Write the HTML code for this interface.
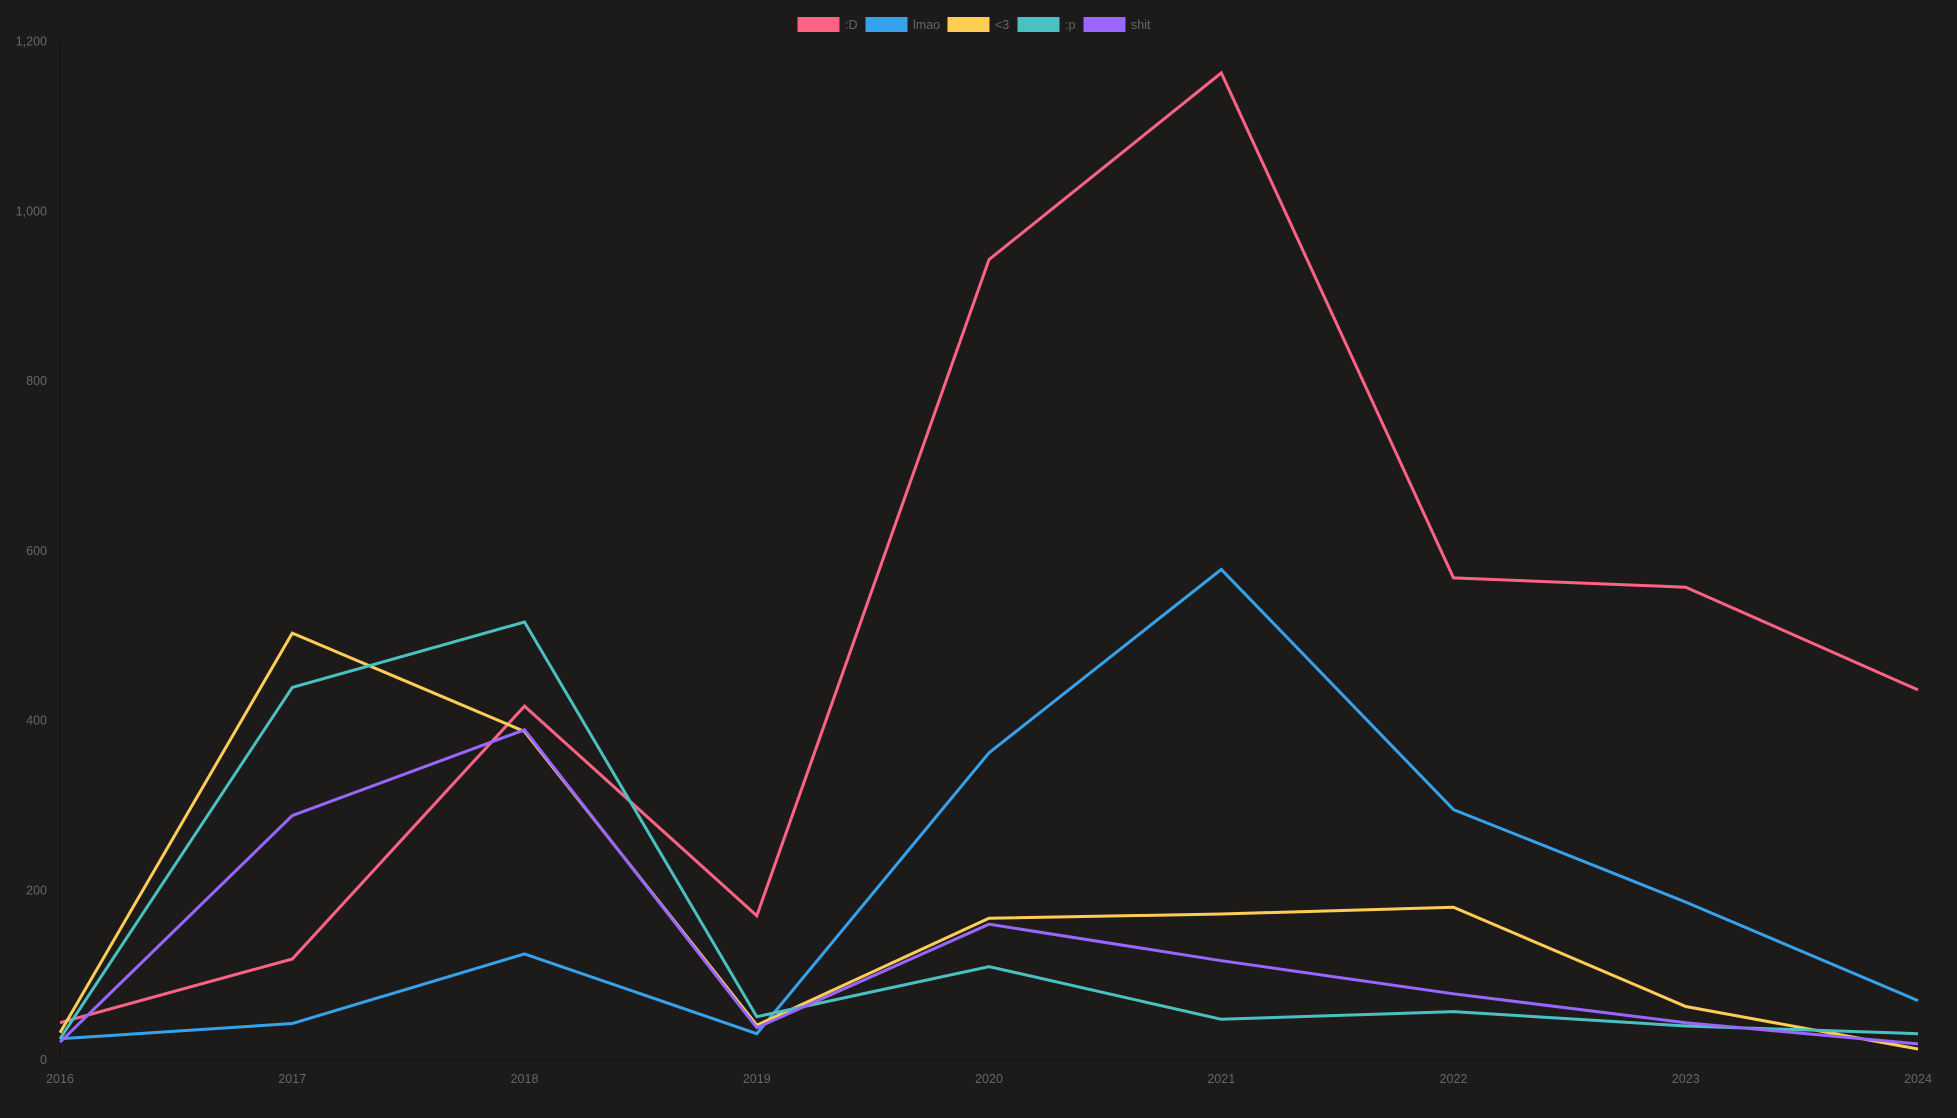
<!DOCTYPE html>
<html><head><meta charset="utf-8"><style>
html,body{margin:0;padding:0;background:#1c1b1a;}
svg{display:block;font-family:"Liberation Sans",sans-serif;}
</style></head><body>
<svg id="chart" width="1957" height="1118" viewBox="0 0 1957 1118" xmlns="http://www.w3.org/2000/svg">
<rect width="1957" height="1118" fill="#1c1b1a"/>
<g id="legend"></g>
<g id="axes"></g>
<g id="series"></g>
</svg>
<script>
const years = ["2016","2017","2018","2019","2020","2021","2022","2023","2024"];
const yTicks = [0,200,400,600,800,1000,1200];
const seriesNames = [":D","lmao","<3",":p","shit"];
const seriesColors = ["#ff6384","#36a2eb","#ffcd56","#4bc0c0","#9966ff"];
const dataD = [44,119,417,170,943,1163,568,557,436];
const dataLmao = [25,43,125,31,362,578,295,186,70];
const dataHeart = [32,503,387,41,167,172,180,63,13];
const dataP = [25,439,516,51,110,48,57,40,31];
const dataShit = [21,288,389,38,160,117,78,44,19];
const allData = [dataD,dataLmao,dataHeart,dataP,dataShit];

const NS="http://www.w3.org/2000/svg";
const X0=60,X1=1918,Y0=1060,Y1=41.5,YMAX=1200;
function xs(i){return X0+(X1-X0)*i/(years.length-1);}
function ys(v){return Y0-(Y0-Y1)*v/YMAX;}
function mk(tag,attrs,parent){const e=document.createElementNS(NS,tag);for(const k in attrs)e.setAttribute(k,attrs[k]);parent.appendChild(e);return e;}

const axes=document.getElementById('axes');
const ya=mk('line',{x1:X0,y1:Y1,x2:X0,y2:Y0,stroke:'#141312','stroke-width':1},axes);


const xa=mk('line',{x1:X0,y1:Y0,x2:X1,y2:Y0,stroke:'#141312','stroke-width':1},axes);


yTicks.forEach(v=>{
  const t=mk('text',{x:X0-13,y:ys(v)+4,'text-anchor':'end','font-size':12.5,fill:'#666'},axes);
  t.textContent=v.toLocaleString('en-US');
  
  
});
years.forEach((y,i)=>{
  const t=mk('text',{x:xs(i),y:1083,'text-anchor':'middle','font-size':12.5,fill:'#666'},axes);
  t.textContent=y;
  
  
});

const sg=document.getElementById('series');
allData.forEach((d,s)=>{
  const pts=d.map((v,i)=>xs(i).toFixed(1)+','+ys(v).toFixed(1)).join(' ');
  const p=mk('polyline',{points:pts,fill:'none',stroke:seriesColors[s],'stroke-width':3,'stroke-linejoin':'miter'},sg);
  
  
});

const lg=document.getElementById('legend');
const starts=[798,866,948,1018,1084];
seriesNames.forEach((n,s)=>{
  const x=starts[s];
  const r=mk('rect',{x:x,y:17.5,width:41,height:14,fill:seriesColors[s],stroke:seriesColors[s]},lg);
  
  
  const t=mk('text',{x:x+47,y:29,'font-size':12.5,fill:'#666'},lg);
  t.textContent=n;
  
  
});
</script>
</body></html>
